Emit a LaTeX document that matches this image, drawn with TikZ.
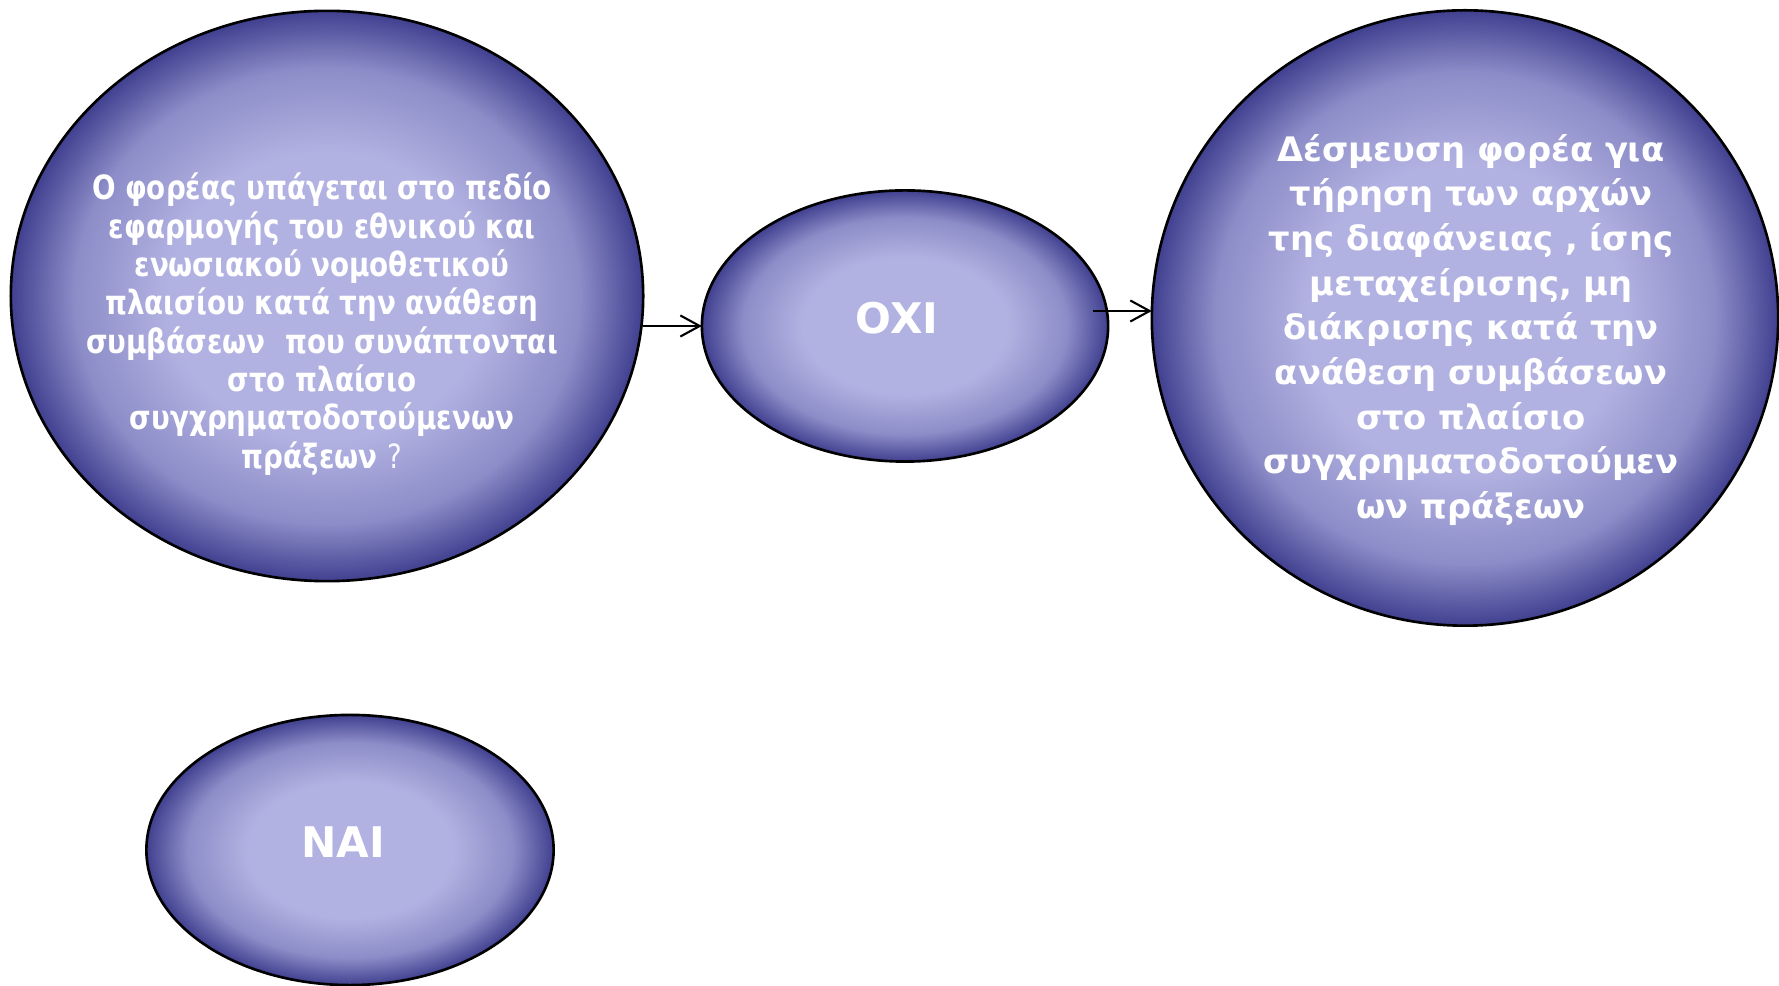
\documentclass[tikz,border=0pt]{standalone}
\usepackage{fontspec}
\setmainfont{DejaVu Sans}
\newfontfamily\narrowfont{DejaVu Sans}[FakeStretch=0.83]
\usetikzlibrary{shapes.geometric,arrows.meta}
\definecolor{lite}{RGB}{178,178,226}
\definecolor{midc}{RGB}{140,140,200}
\definecolor{dark}{RGB}{64,64,144}
\pgfdeclareradialshading{blob}{\pgfpoint{0bp}{0bp}}{color(0bp)=(lite); color(12.5bp)=(lite); color(20bp)=(midc); color(25bp)=(dark); color(50bp)=(dark)}
\tikzset{
  bubble/.style={ellipse, draw=black, line width=0.75pt, shading=blob, inner sep=0pt, outer sep=0pt},
  btext/.style={text=white, font=\bfseries, align=center, inner sep=0pt},
  conn/.style={-{Straight Barb[length=5.5pt,width=6pt]}, line width=0.6pt, black}
}
\begin{document}
\begin{tikzpicture}[x=0.01cm,y=-0.01cm]
\useasboundingbox (0,0) rectangle (1779,986);
\node[bubble, minimum width=6.32cm, minimum height=5.70cm] (e1) at (327,296) {};
\node[bubble, minimum width=4.06cm, minimum height=2.71cm] (oxi) at (905,326) {};
\node[bubble, minimum width=6.26cm, minimum height=6.15cm] (e3) at (1465,318) {};
\node[bubble, minimum width=4.07cm, minimum height=2.70cm] (nai) at (350,850) {};
\node[btext, font=\narrowfont\bfseries\fontsize{9.5}{10.9}\selectfont] (t1) at (322,324) {Ο φορέας υπάγεται στο πεδίο\\εφαρμογής του εθνικού και\\ενωσιακού νομοθετικού\\πλαισίου κατά την ανάθεση\\συμβάσεων\ \ που συνάπτονται\\στο πλαίσιο\\συγχρηματοδοτούμενων\\πράξεων {\mdseries\color{white!90!lite} ?}};
\node[btext, font=\bfseries\fontsize{9.6}{12.7}\selectfont] (t3) at (1471,330) {Δέσμευση φορέα για\\τήρηση των αρχών\\της διαφάνειας , ίσης\\μεταχείρισης, μη\\διάκρισης κατά την\\ανάθεση συμβάσεων\\στο πλαίσιο\\συγχρηματοδοτούμεν\\ων πράξεων};
\node[btext, font=\bfseries\fontsize{12}{14}\selectfont] (toxi) at (897,318) {OXI};
\node[btext, font=\bfseries\fontsize{12}{14}\selectfont] (tnai) at (343,842) {NAI};
\draw[conn] (e1.east |- oxi.west) -- (oxi.west);
\coordinate (a2) at (1093,311);
\draw[conn] (a2) -- (a2 -| e3.west);
\end{tikzpicture}
\end{document}
